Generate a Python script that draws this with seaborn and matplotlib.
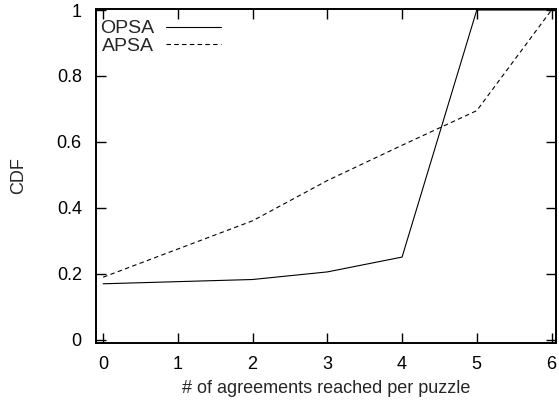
import matplotlib
matplotlib.use("Agg")
import matplotlib.pyplot as plt
from matplotlib.lines import Line2D
import seaborn as sns
import pandas as pd

# Number of agreements reached per puzzle, and the cumulative fraction of puzzles
opsa_x = [0, 2, 3, 4, 5, 6]
opsa_cdf = [0.170, 0.183, 0.206, 0.251, 1.0, 1.0]
apsa_x = [0, 2, 3, 4, 5, 6]
apsa_cdf = [0.190, 0.361, 0.483, 0.590, 0.695, 1.0]
series_names = ["OPSA", "APSA"]
x_ticks = [0, 1, 2, 3, 4, 5, 6]
y_ticks = [0, 0.2, 0.4, 0.6, 0.8, 1]

df = pd.concat([
    pd.DataFrame({"x": opsa_x, "cdf": opsa_cdf, "method": series_names[0]}),
    pd.DataFrame({"x": apsa_x, "cdf": apsa_cdf, "method": series_names[1]}),
], ignore_index=True)

sns.set_style("ticks")
plt.rcParams["font.family"] = ["Liberation Sans", "DejaVu Sans"]
plt.rcParams["font.size"] = 13

fig = plt.figure(figsize=(5.59, 4.04), dpi=100)
top_px, bottom_px = 8.7, 342.5
left_px, right_px = 95.7, 556.0
ax = fig.add_axes([left_px / 559, 1 - bottom_px / 404,
                   (right_px - left_px) / 559, (bottom_px - top_px) / 404])

sns.lineplot(
    data=df, x="x", y="cdf", hue="method", style="method",
    palette={"OPSA": "black", "APSA": "black"},
    dashes={"OPSA": "", "APSA": (4, 3)},
    linewidth=0.8, ax=ax, legend=False, sort=False, estimator=None,
)

ax.set_xlim(-0.1, 6.06)
ax.set_ylim(-0.008, 1.004)
ax.set_xticks(x_ticks)
ax.set_xticklabels([str(t) for t in x_ticks])
ax.set_yticks(y_ticks)
ax.set_yticklabels(["0", "0.2", "0.4", "0.6", "0.8", "1"])
ax.tick_params(direction="in", length=7, width=1.0, top=True, right=True,
               labelsize=13, colors="black")
ax.tick_params(axis="x", pad=10)
ax.tick_params(axis="y", pad=10)
for s in ax.spines.values():
    s.set_linewidth(1.4)
    s.set_color("black")

ax.set_xlabel("# of agreements reached per puzzle", fontsize=13, labelpad=5)
ax.set_ylabel("CDF", fontsize=13, labelpad=21)

handles = [
    Line2D([], [], color="black", lw=0.8, ls="-"),
    Line2D([], [], color="black", lw=0.8, ls=(0, (4, 3))),
]
ax.legend(handles, series_names, loc="upper left", frameon=False,
          markerfirst=False, fontsize=14, handlelength=2.85,
          handletextpad=0.6, labelspacing=0.0, borderaxespad=0.0,
          bbox_to_anchor=(-0.008, 0.99))

fig.savefig("out.png", dpi=100)
